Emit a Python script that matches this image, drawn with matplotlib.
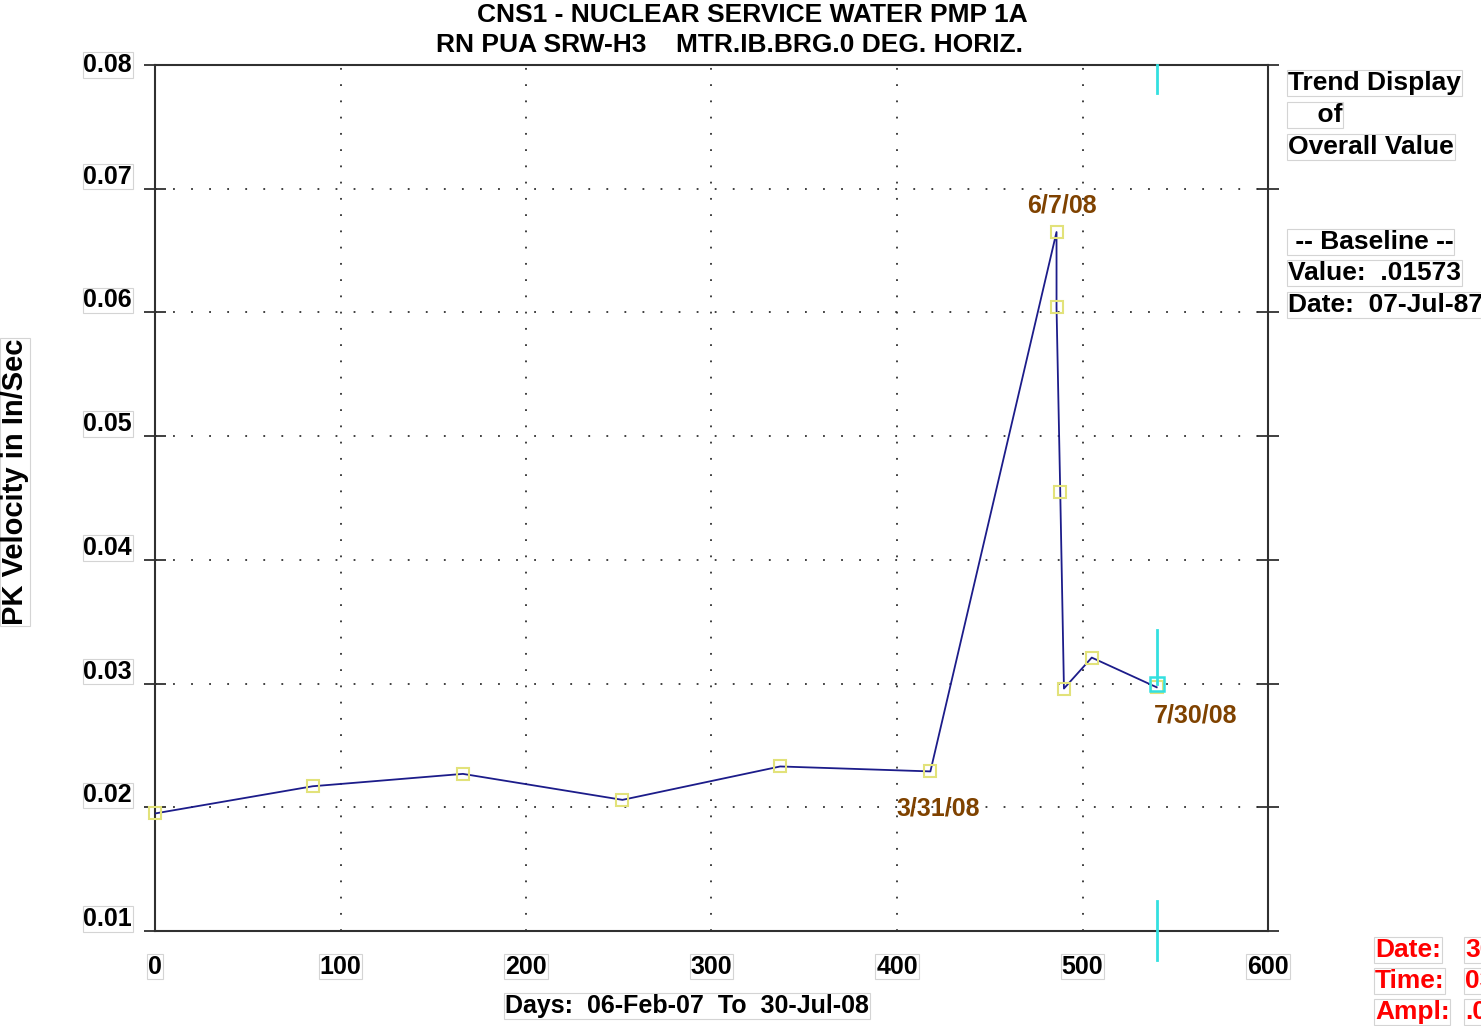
import matplotlib as mpl
mpl.use('Agg')
import matplotlib.pyplot as plt
import matplotlib.transforms as mtransforms

plt.rcParams['font.family'] = ['Liberation Sans', 'DejaVu Sans']
plt.rcParams['font.weight'] = 'bold'

# trend data: days since 06-Feb-07, peak velocity in/sec
days = [0, 85, 166, 252, 337, 418, 486, 486, 488, 490, 505, 540]
velocity = [0.0195, 0.0217, 0.0227, 0.0206, 0.0233, 0.0229,
            0.0665, 0.0604, 0.0455, 0.0296, 0.0321, 0.0297]

cursor_day = 540
cursor_value = 0.0300

notes = [('6/7/08', 486, 0.0665), ('3/31/08', 418, 0.0229), ('7/30/08', 540, 0.0297)]
note_offsets = [(5, 27), (8, -37), (39, -28)]

x_ticks = [0, 100, 200, 300, 400, 500, 600]
y_ticks = [0.01, 0.02, 0.03, 0.04, 0.05, 0.06, 0.07, 0.08]
y_labels = ['0.01', '0.02', '0.03', '0.04', '0.05', '0.06', '0.07', '0.08']

title1 = 'CNS1 - NUCLEAR SERVICE WATER PMP 1A'
title2 = 'RN PUA SRW-H3    MTR.IB.BRG.0 DEG. HORIZ.'
side_lines = ['Trend Display', '    of', 'Overall Value',
              ' -- Baseline --', 'Value:  .01573', 'Date:  07-Jul-87']
side_rows = [83, 115, 147, 242, 273, 305]
cursor_keys = ['Date:', 'Time:', 'Ampl:']
cursor_vals = ['30-Jul-08', '03:15', '.02973']

BROWN = '#7f4200'
FS = 18
box = dict(facecolor='white', edgecolor='#d4d4d4', linewidth=0.8, pad=0.5)

fig = plt.figure(figsize=(14.81, 10.26), dpi=100)
ax = fig.add_axes([155 / 1481, 1 - 931 / 1026, 1113 / 1481, 866 / 1026])

ax.set_xlim(0, 600)
ax.set_ylim(0.01, 0.08)
ax.set_xticks(x_ticks)
ax.set_yticks(y_ticks)
ax.set_yticklabels([])

for s in ax.spines.values():
    s.set_linewidth(1.5)
    s.set_color('#303030')

ax.tick_params(axis='y', which='both', direction='inout', length=16, width=1.3,
               left=True, right=True, color='#303030')
ax.tick_params(axis='x', length=0, pad=17, labelsize=FS)
for lab in ax.get_xticklabels():
    lab.set_bbox(box)

# y labels sit a little above their ticks (except the top one)
for yv, lab in zip(y_ticks, y_labels):
    dy = 0 if yv == y_ticks[-1] else 12
    ax.annotate(lab, xy=(0, yv), xycoords=('axes fraction', 'data'),
                xytext=(-23, dy), textcoords='offset pixels', ha='right', va='center',
                fontsize=FS, bbox=box)

# dotted grid
for yv in y_ticks[1:-1]:
    ax.axhline(yv, color='#303030', lw=1.3, ls=(0, (1, 9)), zorder=1)
for xv in x_ticks[1:-1]:
    ax.axvline(xv, color='#303030', lw=1.3, ls=(0, (1, 8)), zorder=1)

ax.plot(days, velocity, color='#1c1c8a', lw=1.3, zorder=3)
ax.plot(days, velocity, ls='none', marker='s', ms=8.5, mfc='none',
        mec='#e2e27a', mew=1.5, zorder=4, clip_on=False)

# cursor
blend = mtransforms.blended_transform_factory(ax.transData, ax.transAxes)
ax.plot([cursor_day, cursor_day], [1.0, 0.968], color='#33e0e0', lw=2,
        transform=blend, clip_on=False, zorder=5)
ax.plot([cursor_day, cursor_day], [cursor_value, cursor_value + 0.0043],
        color='#33e0e0', lw=2, zorder=5)
ax.plot([cursor_day, cursor_day], [0.035, -0.033], color='#33e0e0', lw=2,
        transform=blend, clip_on=False, zorder=5)
ax.plot([cursor_day], [cursor_value], ls='none', marker='s', ms=10, mfc='none',
        mec='#33e0e0', mew=1.8, zorder=6)

for (txt, dx, dy), (ox, oy) in zip(notes, note_offsets):
    ax.annotate(txt, (dx, dy), xytext=(ox, oy), textcoords='offset pixels',
                ha='center', va='center', fontsize=FS, color=BROWN)

fig.text(752 / 1481, 1 - 15 / 1026, title1, ha='center', va='center', fontsize=19)
fig.text(729 / 1481, 1 - 45 / 1026, title2, ha='center', va='center', fontsize=19)

fig.text(687 / 1481, 1 - 1006 / 1026, 'Days:  06-Feb-07  To  30-Jul-08',
         ha='center', va='center', fontsize=FS, bbox=box)
fig.text(15 / 1481, 1 - 482 / 1026, 'PK Velocity in In/Sec', rotation=90,
         ha='center', va='center', fontsize=21, bbox=box)

for line, row in zip(side_lines, side_rows):
    fig.text(1288 / 1481, 1 - row / 1026, line, ha='left', va='center',
             fontsize=19, bbox=box)

for i, (k, v) in enumerate(zip(cursor_keys, cursor_vals)):
    yy = 1 - (950 + 31 * i) / 1026
    fig.text(1375 / 1481, yy, k, ha='left', va='center', fontsize=19, color='red', bbox=box)
    fig.text(1465 / 1481, yy, v, ha='left', va='center', fontsize=19, color='red', bbox=box)

fig.savefig('out.png', dpi=100)
